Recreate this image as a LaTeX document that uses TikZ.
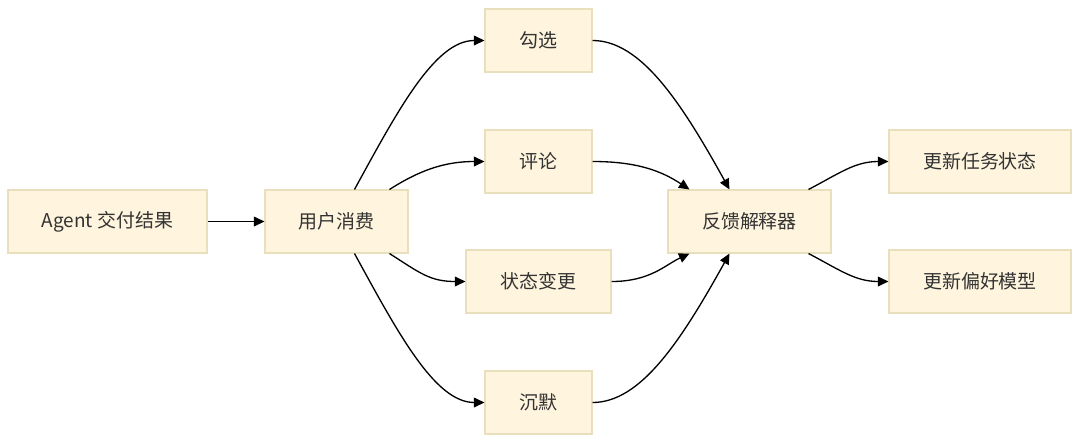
\documentclass[tikz,border=0pt]{standalone}
\usepackage{fontspec}
\setmainfont{Noto Sans CJK SC}
\usetikzlibrary{arrows.meta,calc}
\definecolor{boxfill}{HTML}{FFF4DD}
\definecolor{boxline}{HTML}{EADFBD}
\definecolor{txt}{HTML}{333333}
\begin{document}
\begin{tikzpicture}[x=0.02cm,y=-0.02cm,
  box/.style={draw=boxline,fill=boxfill,line width=0.6pt,minimum height=1.26cm,inner sep=0pt,text=txt,font=\fontsize{10.8pt}{13pt}\selectfont},
  conn/.style={draw=black,line width=0.75pt,-{Triangle[length=6pt,width=5.5pt]}}]
\useasboundingbox (0,0) rectangle (1080,444);
\node[box,minimum width=3.98cm] (ag) at (107.5,221.5) {Agent 交付结果};
\node[box,minimum width=2.86cm] (yh) at (336.5,221.5) {用户消费};
\node[box,minimum width=2.14cm] (gx) at (538.5,40.5) {勾选};
\node[box,minimum width=2.14cm] (pl) at (538.5,161.5) {评论};
\node[box,minimum width=2.90cm] (zt) at (538.5,281.5) {状态变更};
\node[box,minimum width=2.14cm] (cm) at (538.5,402.5) {沉默};
\node[box,minimum width=3.26cm] (fk) at (749.5,221.5) {反馈解释器};
\node[box,minimum width=3.64cm] (rw) at (980,161.5) {更新任务状态};
\node[box,minimum width=3.64cm] (ph) at (980,281.5) {更新偏好模型};

\coordinate (yhA) at ($(yh.north west)+(90,0)$);
\coordinate (yhB) at ($(yh.north west)+(125,0)$);
\coordinate (yhC) at ($(yh.south west)+(125,0)$);
\coordinate (yhD) at ($(yh.south west)+(90,0)$);
\coordinate (fkA) at ($(fk.north west)+(62,0)$);
\coordinate (fkB) at ($(fk.north west)+(22,0)$);
\coordinate (fkC) at ($(fk.south west)+(22,0)$);
\coordinate (fkD) at ($(fk.south west)+(62,0)$);
\coordinate (fkE) at ($(fk.north east)+(-23,0)$);
\coordinate (fkF) at ($(fk.south east)+(-23,0)$);

\draw[conn] (ag.east) -- (yh.west);
\draw[conn] (yhA) .. controls (398,110) and (435,40.5) .. (gx.west);
\draw[conn] (yhB) .. controls (420,170) and (445,161.5) .. (pl.west);
\draw[conn] (yhC) .. controls (420,273) and (430,281.5) .. (zt.west);
\draw[conn] (yhD) .. controls (398,333) and (435,402.5) .. (cm.west);
\draw[conn] (gx.east) .. controls (640,40.5) and (680,100) .. (fkA);
\draw[conn] (pl.east) .. controls (635,161.5) and (660,170) .. (fkB);
\draw[conn] (zt.east) .. controls (650,281.5) and (665,265) .. (fkC);
\draw[conn] (cm.east) .. controls (640,402.5) and (680,343) .. (fkD);
\draw[conn] (fkE) .. controls (840,173) and (855,161.5) .. (rw.west);
\draw[conn] (fkF) .. controls (840,270) and (855,281.5) .. (ph.west);
\end{tikzpicture}
\end{document}
